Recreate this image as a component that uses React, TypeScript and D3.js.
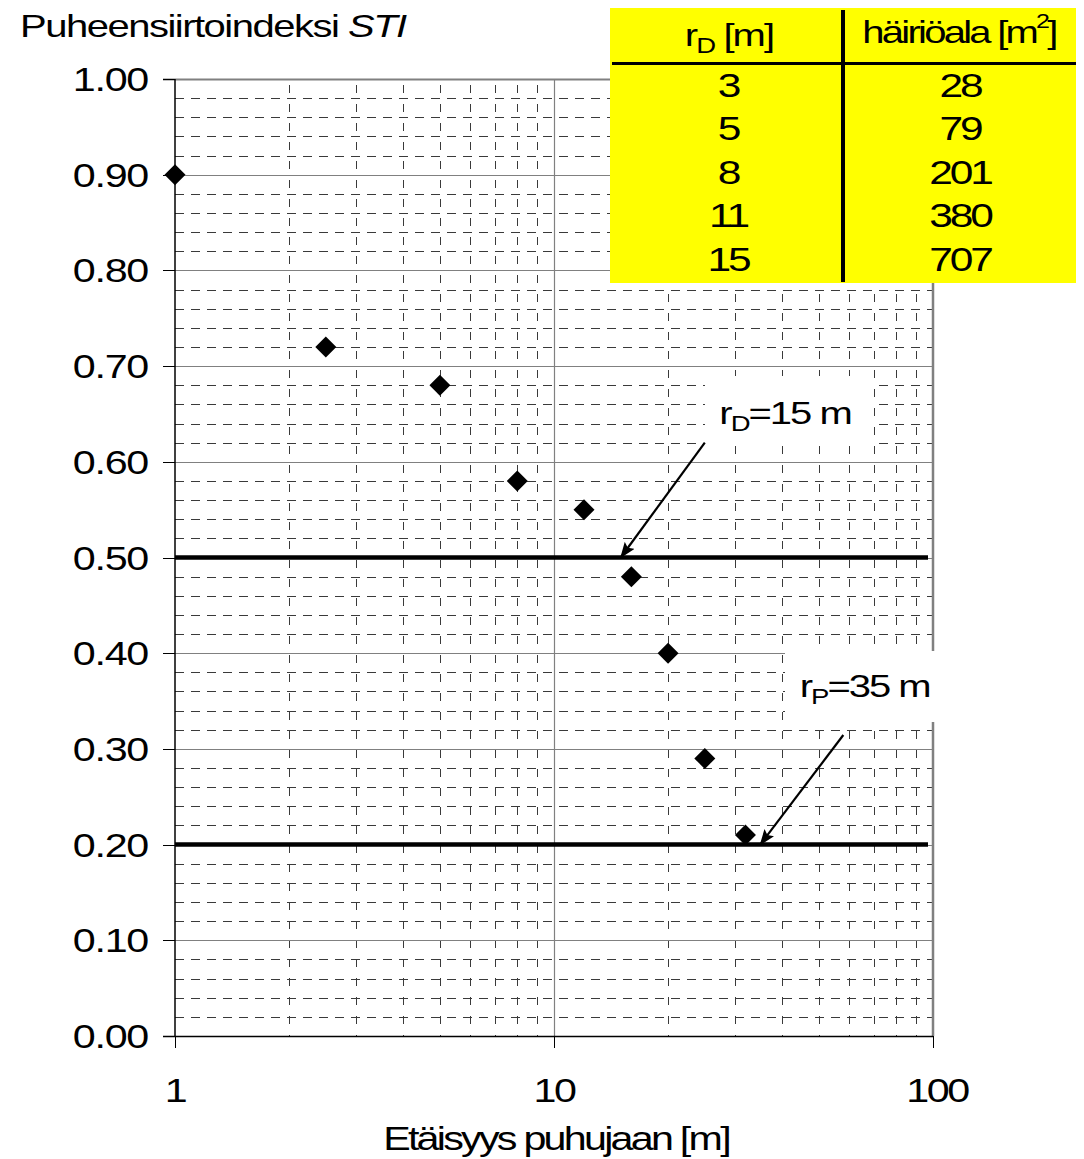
import React from "react";
import * as d3 from "d3";

// measured STI points (distance in m, STI)
const distances = [1, 2.5, 5, 8, 12, 16, 20, 25, 32];
const stiValues = [0.9, 0.72, 0.68, 0.58, 0.55, 0.48, 0.4, 0.29, 0.21];

const thresholdLevels = [0.5, 0.2];

const tableRadii = ["3", "5", "8", "11", "15"];
const tableAreas = ["28", "79", "201", "380", "707"];

const yTickValues = d3.range(0, 11).map((i) => i / 10);
const xTickValues = [1, 10, 100];
const xMinorValues = [2, 3, 4, 5, 6, 7, 8, 9, 20, 30, 40, 50, 60, 70, 80, 90];
const yMinorValues = d3.range(1, 50).filter((i) => i % 5 !== 0).map((i) => i / 50);

// arrows: label, tail (x, y) and tip (x, y) in data units
const annotations = [
  { sub: "D", rest: "=15 m", labelX: 27.3, labelY: 0.64, tail: [25, 0.62], tip: [15, 0.5] },
  { sub: "P", rest: "=35 m", labelX: 44.5, labelY: 0.354, tail: [58, 0.3145], tip: [35, 0.2] },
];

const FONT = "'Liberation Sans', Arial, sans-serif";

function T({ x, y, anchor = "start", size = 33, sx = 1.25, ls = -1.5, style = "normal", children }: any) {
  return (
    <text
      transform={`translate(${x},${y}) scale(${sx},1)`}
      textAnchor={anchor}
      fontSize={size}
      fontFamily={FONT}
      fontStyle={style}
      letterSpacing={ls}
      fill="#000"
    >
      {children}
    </text>
  );
}

export default function App() {
  const width = 1084;
  const height = 1159;

  const x = d3.scaleLog().domain([1, 100]).range([175, 933]);
  const y = d3.scaleLinear().domain([0, 1]).range([1036, 79]);
  const px = (v: number) => Math.round(x(v)) + 0.5;
  const py = (v: number) => Math.round(y(v)) + 0.5;

  const diamond = d3.symbol().type(d3.symbolSquare).size(220)();

  const rowY = (i: number) => 97 + i * 43.4;

  return (
    <svg
      width={width}
      height={height}
      style={{ position: "absolute", left: 0, top: 0, background: "#fff" }}
    >
      <defs>
        <marker id="head" viewBox="0 0 16 12" refX="15" refY="6" markerWidth="16" markerHeight="12" orient="auto" markerUnits="userSpaceOnUse">
          <path d="M0,0 L16,6 L0,12 L3,6 z" fill="#000" />
        </marker>
      </defs>

      {/* minor grid */}
      <g stroke="#3a3a3a" strokeWidth={1}>
        {yMinorValues.map((v) => (
          <line key={"hm" + v} x1={175} x2={933} y1={py(v)} y2={py(v)} strokeDasharray="9,7" />
        ))}
        {xMinorValues.map((v) => (
          <line key={"vm" + v} x1={px(v)} x2={px(v)} y1={79} y2={1036} strokeDasharray="8,11" strokeDashoffset={-6} />
        ))}
      </g>

      {/* major grid */}
      <g stroke="#808080" strokeWidth={1.2}>
        {yTickValues.slice(1).map((v) => (
          <line key={"hM" + v} x1={163} x2={933} y1={py(v)} y2={py(v)} />
        ))}
        <line x1={px(10)} x2={px(10)} y1={79} y2={1036} />
        <line x1={933} x2={933} y1={79} y2={1036} strokeWidth={2.5} />
        <line x1={163} x2={933} y1={py(1)} y2={py(1)} strokeWidth={2} />
      </g>

      {/* axes */}
      <g stroke="#000">
        <line x1={175} x2={175} y1={79} y2={1036} strokeWidth={1.5} />
        <line x1={163} x2={933} y1={py(0)} y2={py(0)} strokeWidth={1.5} />
        {yTickValues.map((v) => (
          <line key={"yt" + v} x1={163} x2={175} y1={py(v)} y2={py(v)} strokeWidth={1} />
        ))}
        {xTickValues.map((v) => (
          <line key={"xt" + v} x1={px(v)} x2={px(v)} y1={1036} y2={1048} strokeWidth={1} />
        ))}
      </g>

      {/* thresholds */}
      {thresholdLevels.map((v) => (
        <line key={"th" + v} x1={175} x2={928} y1={y(v)} y2={y(v)} stroke="#000" strokeWidth={4.5} />
      ))}

      {/* points */}
      {distances.map((d, i) => (
        <path key={"p" + i} d={diamond || ""} transform={`translate(${x(d)},${y(stiValues[i])}) rotate(45)`} fill="#000" />
      ))}

      {/* annotation boxes */}
      <rect x={705} y={376} width={168} height={68} fill="#fff" />
      <rect x={785} y={651} width={155} height={71} fill="#fff" />

      {annotations.map((a, i) => (
        <g key={"an" + i}>
          <line
            x1={x(a.tail[0])}
            y1={y(a.tail[1])}
            x2={x(a.tip[0])}
            y2={y(a.tip[1])}
            stroke="#000"
            strokeWidth={2.2}
            markerEnd="url(#head)"
          />
          <T x={x(a.labelX)} y={y(a.labelY)} size={32} ls={-1.6}>
            r<tspan fontSize={22} dy={7}>{a.sub}</tspan>
            <tspan dy={-7}>{a.rest}</tspan>
          </T>
        </g>
      ))}

      {/* y tick labels */}
      {yTickValues.map((v) => (
        <T key={"yl" + v} x={148} y={y(v) + 12} anchor="end" size={33} ls={-1}>
          {v.toFixed(2)}
        </T>
      ))}

      {/* x tick labels */}
      {xTickValues.map((v) => (
        <T key={"xl" + v} x={x(v) + (v === 100 ? 4 : 0)} y={1102} anchor="middle" size={33} ls={-2}>
          {String(v)}
        </T>
      ))}

      <T x={556} y={1150} anchor="middle" size={33} ls={-2.2}>
        Etäisyys puhujaan [m]
      </T>

      <T x={20} y={37} size={32} ls={-1.2}>
        Puheensiirtoindeksi <tspan fontStyle="italic">STI</tspan>
      </T>

      {/* table */}
      <g>
        <rect x={610} y={8} width={466} height={275} fill="#ffff00" />
        <line x1={843} x2={843} y1={10} y2={282} stroke="#000" strokeWidth={4} />
        <line x1={612} x2={1076} y1={63.5} y2={63.5} stroke="#000" strokeWidth={3} />
        <T x={729} y={46} anchor="middle" size={32} ls={-1.5}>
          r<tspan fontSize={22} dy={7}>D</tspan>
          <tspan dy={-7}> [m]</tspan>
        </T>
        <T x={959} y={43} anchor="middle" size={32} ls={-2.2}>
          häiriöala [m<tspan fontSize={20} dy={-15}>2</tspan>
          <tspan dy={15}>]</tspan>
        </T>
        {tableRadii.map((r, i) => (
          <T key={"tr" + i} x={728} y={rowY(i)} anchor="middle" size={34} ls={-2.5}>
            {r}
          </T>
        ))}
        {tableAreas.map((a, i) => (
          <T key={"ta" + i} x={960} y={rowY(i)} anchor="middle" size={34} ls={-2.5}>
            {a}
          </T>
        ))}
      </g>
    </svg>
  );
}
